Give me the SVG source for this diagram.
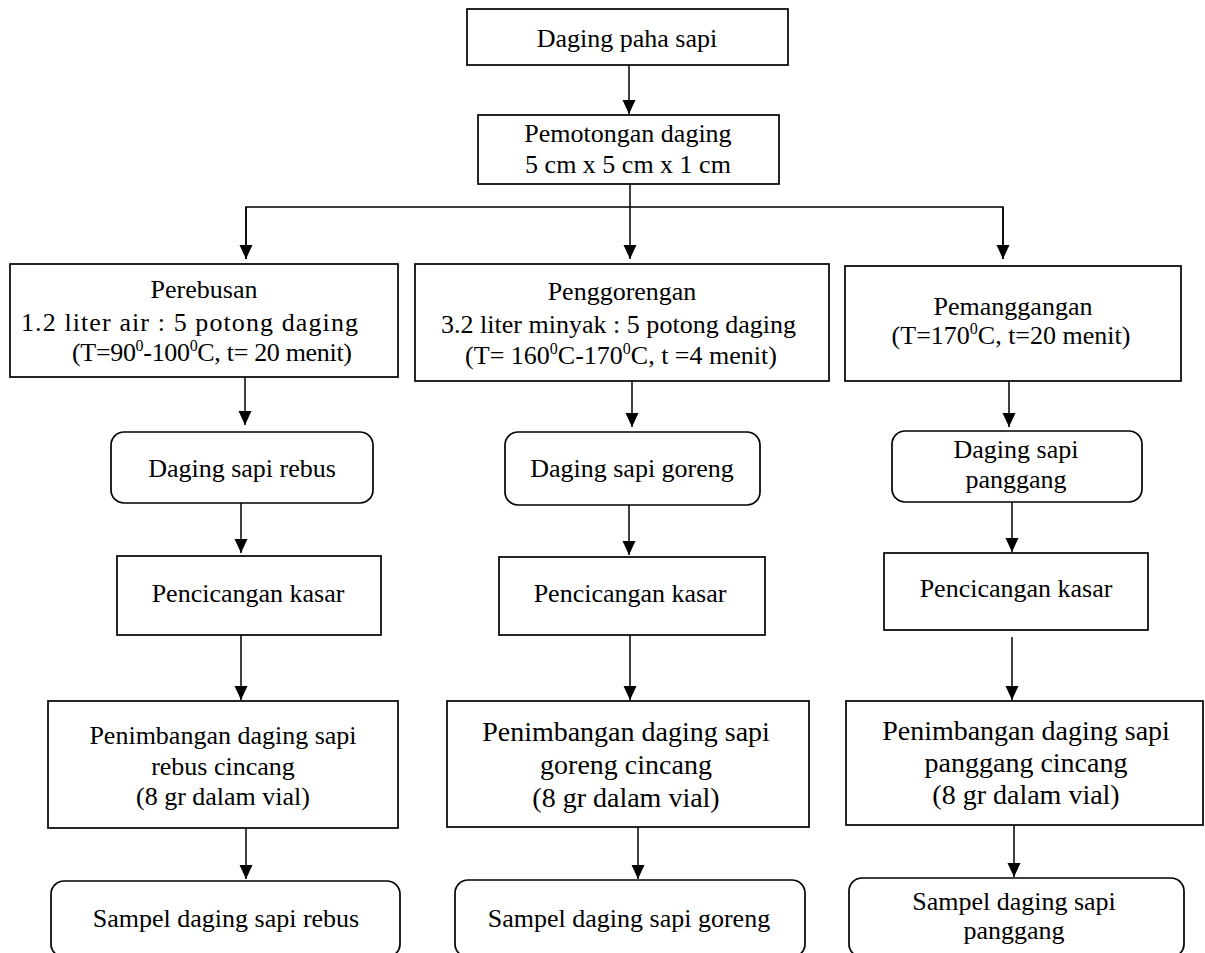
<svg xmlns="http://www.w3.org/2000/svg" width="1205" height="953" viewBox="0 0 1205 953">
<style>
.box{fill:#fff;stroke:#000;stroke-width:1.7}
.t{font-family:"Liberation Serif","Times New Roman",serif;font-size:26px;text-anchor:middle;fill:#000}
.ts{font-family:"Liberation Serif","Times New Roman",serif;font-size:26px;text-anchor:start;fill:#000}
.big{font-size:28px}
.c{fill:none;stroke:#000;stroke-width:1.5}
</style>
<defs>
<marker id="ah" markerWidth="14" markerHeight="14" viewBox="0 -7 14 14" refX="14" refY="0" orient="auto" markerUnits="userSpaceOnUse">
<path d="M0,-6.5 L14,0 L0,6.5 z" fill="#000"/>
</marker>
</defs>
<rect width="1205" height="953" fill="#fff"/>

<g id="connectors">
<line class="c" x1="629" y1="65" x2="629" y2="114" marker-end="url(#ah)"/>
<line class="c" x1="630" y1="184" x2="630" y2="259" marker-end="url(#ah)"/>
<polyline class="c" points="246,259 246,207 1003,207 1003,259" marker-start="none"/>
<line class="c" x1="246" y1="207" x2="246" y2="259" marker-end="url(#ah)"/>
<line class="c" x1="1003" y1="207" x2="1003" y2="259" marker-end="url(#ah)"/>
<line class="c" x1="245" y1="377" x2="245" y2="425" marker-end="url(#ah)"/>
<line class="c" x1="632" y1="381" x2="632" y2="427" marker-end="url(#ah)"/>
<line class="c" x1="1009" y1="381" x2="1009" y2="427" marker-end="url(#ah)"/>
<line class="c" x1="241" y1="503" x2="241" y2="553" marker-end="url(#ah)"/>
<line class="c" x1="629" y1="505" x2="629" y2="555" marker-end="url(#ah)"/>
<line class="c" x1="1012" y1="502" x2="1012" y2="552" marker-end="url(#ah)"/>
<line class="c" x1="241" y1="635" x2="241" y2="700" marker-end="url(#ah)"/>
<line class="c" x1="630" y1="635" x2="630" y2="700" marker-end="url(#ah)"/>
<line class="c" x1="1012" y1="637" x2="1012" y2="700" marker-end="url(#ah)"/>
<line class="c" x1="246" y1="828" x2="246" y2="879" marker-end="url(#ah)"/>
<line class="c" x1="638" y1="827" x2="638" y2="879" marker-end="url(#ah)"/>
<line class="c" x1="1014" y1="825" x2="1014" y2="877" marker-end="url(#ah)"/>
</g>

<g id="n1">
<rect class="box" x="467" y="9" width="321" height="56"/>
<text class="t" x="627" y="47">Daging paha sapi</text>
</g>
<g id="n2">
<rect class="box" x="478" y="115" width="301" height="69"/>
<text class="t" x="628" y="142">Pemotongan daging</text>
<text class="t" x="628" y="173">5 cm x 5 cm x 1 cm</text>
</g>

<g id="n3a">
<rect class="box" x="10" y="264" width="388" height="113"/>
<text class="t" x="204" y="298">Perebusan</text>
<text class="ts" x="21" y="331" textLength="337">1.2 liter air : 5 potong daging</text>
<text class="ts" x="72" y="361" textLength="280">(T=90<tspan dy="-10" font-size="16">0</tspan><tspan dy="10">-100</tspan><tspan dy="-10" font-size="16">0</tspan><tspan dy="10">C, t= 20 menit)</tspan></text>
</g>
<g id="n3b">
<rect class="box" x="415" y="264" width="414" height="117"/>
<text class="t" x="622" y="300">Penggorengan</text>
<text class="ts" x="441" y="333" textLength="355">3.2 liter minyak : 5 potong daging</text>
<text class="t" x="621" y="364">(T= 160<tspan dy="-10" font-size="16">0</tspan><tspan dy="10">C-170</tspan><tspan dy="-10" font-size="16">0</tspan><tspan dy="10">C, t =4 menit)</tspan></text>
</g>
<g id="n3c">
<rect class="box" x="845" y="266" width="336" height="115"/>
<text class="t" x="1013" y="315">Pemanggangan</text>
<text class="t" x="1011" y="344">(T=170<tspan dy="-10" font-size="16">0</tspan><tspan dy="10">C, t=20 menit)</tspan></text>
</g>

<g id="n4a">
<rect class="box" x="111" y="432" width="262" height="71" rx="13"/>
<text class="t" x="242" y="477">Daging sapi rebus</text>
</g>
<g id="n4b">
<rect class="box" x="505" y="432" width="255" height="73" rx="13"/>
<text class="t" x="632" y="477">Daging sapi goreng</text>
</g>
<g id="n4c">
<rect class="box" x="892" y="431" width="250" height="71" rx="13"/>
<text class="t" x="1016" y="458">Daging sapi</text>
<text class="t" x="1016" y="488">panggang</text>
</g>

<g id="n5a">
<rect class="box" x="117" y="556" width="264" height="79"/>
<text class="t" x="248" y="602">Pencicangan kasar</text>
</g>
<g id="n5b">
<rect class="box" x="499" y="557" width="266" height="78"/>
<text class="t" x="630" y="602">Pencicangan kasar</text>
</g>
<g id="n5c">
<rect class="box" x="884" y="553" width="264" height="77"/>
<text class="t" x="1016" y="597">Pencicangan kasar</text>
</g>

<g id="n6a">
<rect class="box" x="48" y="701" width="350" height="127"/>
<text class="t" x="223" y="744">Penimbangan daging sapi</text>
<text class="t" x="223" y="775">rebus cincang</text>
<text class="t" x="223" y="805">(8 gr dalam vial)</text>
</g>
<g id="n6b">
<rect class="box" x="447" y="701" width="362" height="126"/>
<text class="t big" x="626" y="741">Penimbangan daging sapi</text>
<text class="t big" x="626" y="774">goreng cincang</text>
<text class="t big" x="626" y="807">(8 gr dalam vial)</text>
</g>
<g id="n6c">
<rect class="box" x="846" y="701" width="357" height="124"/>
<text class="t big" x="1026" y="740">Penimbangan daging sapi</text>
<text class="t big" x="1026" y="772">panggang cincang</text>
<text class="t big" x="1026" y="804">(8 gr dalam vial)</text>
</g>

<g id="n7a">
<rect class="box" x="51" y="881" width="349" height="76" rx="13"/>
<text class="t" x="226" y="927">Sampel daging sapi rebus</text>
</g>
<g id="n7b">
<rect class="box" x="455" y="880" width="350" height="77" rx="13"/>
<text class="t" x="629" y="927">Sampel daging sapi goreng</text>
</g>
<g id="n7c">
<rect class="box" x="849" y="878" width="335" height="79" rx="13"/>
<text class="t" x="1014" y="910">Sampel daging sapi</text>
<text class="t" x="1014" y="939">panggang</text>
</g>
</svg>
